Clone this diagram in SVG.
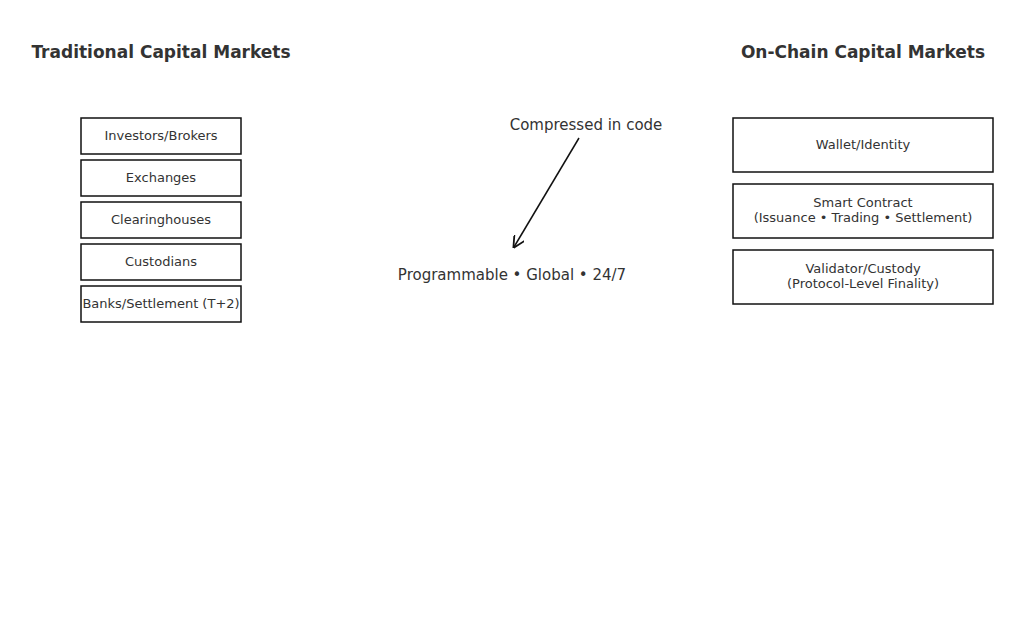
<svg xmlns="http://www.w3.org/2000/svg" width="1024" height="619" viewBox="0 0 1024 619">
<style>
text{font-family:"DejaVu Sans",sans-serif;fill:#333;text-anchor:middle}
.t{font-size:17px;font-weight:bold}
.b{font-size:13px}
.m{font-size:15px}
rect{fill:#fff;stroke:#111;stroke-width:1.5}
</style>
<defs><marker id="a" viewBox="0 0 10 10" refX="9" refY="5" markerWidth="8" markerHeight="8" orient="auto"><path d="M0,0L10,5L0,10" fill="none" stroke="#111" stroke-width="1.5"/></marker></defs>
<rect width="1024" height="619" style="stroke:none"/>
<text class="t" x="161" y="58">Traditional Capital Markets</text>
<text class="t" x="863" y="58">On-Chain Capital Markets</text>
<g id="n1"><rect x="81" y="118" width="160" height="36"/><text class="b" x="161" y="140">Investors/Brokers</text></g>
<g id="n2"><rect x="81" y="160" width="160" height="36"/><text class="b" x="161" y="182">Exchanges</text></g>
<g id="n3"><rect x="81" y="202" width="160" height="36"/><text class="b" x="161" y="224">Clearinghouses</text></g>
<g id="n4"><rect x="81" y="244" width="160" height="36"/><text class="b" x="161" y="266">Custodians</text></g>
<g id="n5"><rect x="81" y="286" width="160" height="36"/><text class="b" x="161" y="308">Banks/Settlement (T+2)</text></g>
<g id="r1"><rect x="733" y="118" width="260" height="54"/><text class="b" x="863" y="149">Wallet/Identity</text></g>
<g id="r2"><rect x="733" y="184" width="260" height="54"/><text class="b" x="863" y="207">Smart Contract</text><text class="b" x="863" y="222">(Issuance • Trading • Settlement)</text></g>
<g id="r3"><rect x="733" y="250" width="260" height="54"/><text class="b" x="863" y="273">Validator/Custody</text><text class="b" x="863" y="288">(Protocol-Level Finality)</text></g>
<text class="m" x="586" y="130">Compressed in code</text>
<text class="m" x="512" y="280">Programmable • Global • 24/7</text>
<g id="connectors"><line x1="579" y1="138" x2="514" y2="247" stroke="#111" stroke-width="1.5" marker-end="url(#a)"/></g>
</svg>
